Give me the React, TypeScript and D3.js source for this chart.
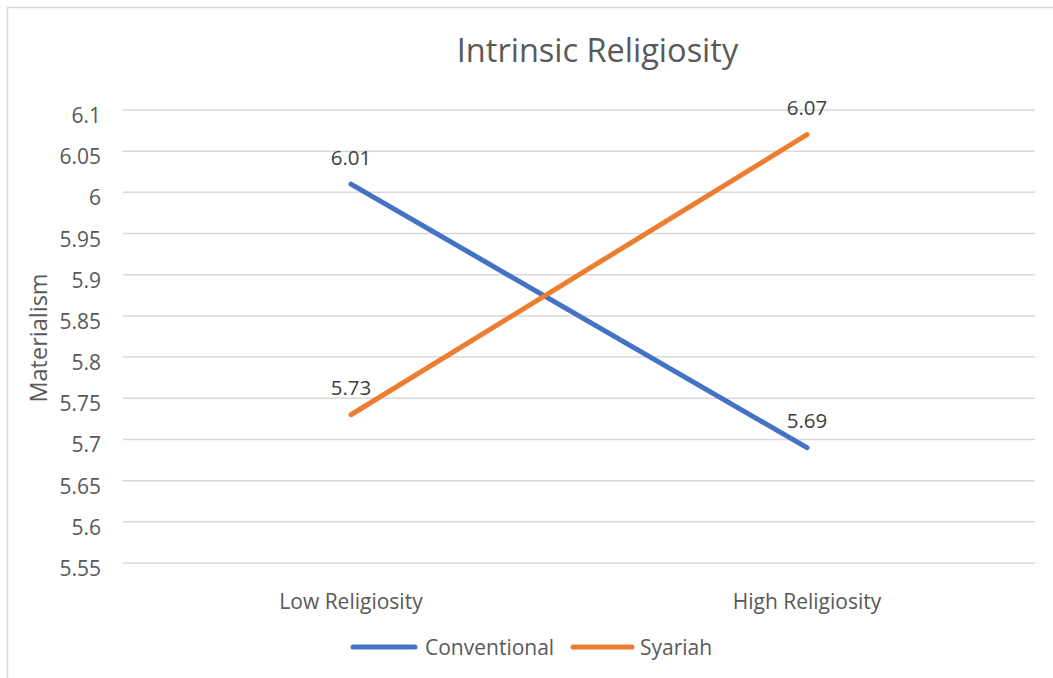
import React from "react";
import * as d3 from "d3";

const categories = ["Low Religiosity", "High Religiosity"];
const conventional = [6.01, 5.69];
const syariah = [5.73, 6.07];
const yTicks = [5.55, 5.6, 5.65, 5.7, 5.75, 5.8, 5.85, 5.9, 5.95, 6, 6.05, 6.1];
const seriesNames = ["Conventional", "Syariah"];
const seriesColors = ["#4472C4", "#ED7D31"];

const W = 1053;
const H = 678;
const FONT = "'Open Sans', sans-serif";
const TEXT = "#595959";

export default function App() {
  const x = d3.scaleBand<string>().domain(categories).range([123, 1035]);
  const y = d3.scaleLinear().domain([5.55, 6.1]).range([563, 110]);
  const cx = (c: string) => (x(c) as number) + x.bandwidth() / 2;
  const line = d3
    .line<number>()
    .x((_, i) => cx(categories[i]))
    .y((v) => y(v));
  const series = [conventional, syariah];

  return (
    <svg
      width={W}
      height={H}
      style={{ position: "absolute", left: 0, top: 0, background: "#fff" }}
      fontFamily={FONT}
    >
      <rect x={7.5} y={7.5} width={W + 10} height={H + 10} fill="#fff" stroke="#D9D9D9" strokeWidth={1.5} />
      <text x={597.5} y={62} textAnchor="middle" fontSize={32.5} fill={TEXT}>
        Intrinsic Religiosity
      </text>
      {yTicks.map((t) => (
        <g key={t}>
          <line x1={123} x2={1035} y1={y(t)} y2={y(t)} stroke="#D9D9D9" strokeWidth={1.5} />
          <text x={101} y={y(t) + 13} textAnchor="end" fontSize={21} fill={TEXT}>
            {String(t)}
          </text>
        </g>
      ))}
      <text
        transform={`translate(46.5,338) rotate(-90)`}
        textAnchor="middle"
        fontSize={23.5}
        fill={TEXT}
      >
        Materialism
      </text>
      {categories.map((c) => (
        <text key={c} x={cx(c)} y={609} textAnchor="middle" fontSize={21} fill={TEXT}>
          {c}
        </text>
      ))}
      {series.map((s, k) => (
        <g key={seriesNames[k]}>
          <path d={line(s) as string} fill="none" stroke={seriesColors[k]} strokeWidth={5} strokeLinecap="round" />
          {s.map((v, i) => (
            <text key={i} x={cx(categories[i])} y={y(v) - 19.5} textAnchor="middle" fontSize={20.5} fill="#404040">
              {v.toFixed(2)}
            </text>
          ))}
        </g>
      ))}
      {/* legend */}
      <g>
        <line x1={353} x2={415} y1={647} y2={647} stroke={seriesColors[0]} strokeWidth={5} strokeLinecap="round" />
        <text x={425} y={655} fontSize={21} fill={TEXT}>{seriesNames[0]}</text>
        <line x1={573} x2={632} y1={647} y2={647} stroke={seriesColors[1]} strokeWidth={5} strokeLinecap="round" />
        <text x={640} y={655} fontSize={21} fill={TEXT}>{seriesNames[1]}</text>
      </g>
    </svg>
  );
}
